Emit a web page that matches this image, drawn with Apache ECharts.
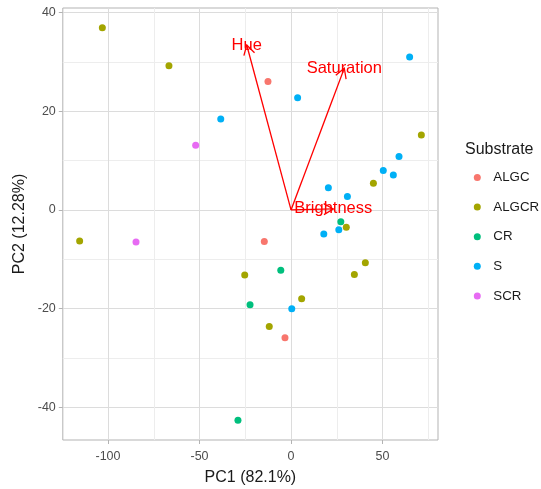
<!DOCTYPE html>
<html>
<head>
<meta charset="utf-8">
<script src="https://cdn.jsdelivr.net/npm/echarts@6/dist/echarts.min.js"></script>
<style>html,body{margin:0;padding:0;background:#fff}#c{width:541px;height:489px}</style>
</head>
<body>
<div id="c"></div>
<script>
// ---- data ----
const groups = ['ALGC', 'ALGCR', 'CR', 'S', 'SCR'];
const colors = ['#F8766D', '#A3A500', '#00BF7D', '#00B0F6', '#E76BF3'];
const pc1_ALGC  = [-12.6, -14.6, -3.3];
const pc2_ALGC  = [26.0, -6.4, -25.9];
const pc1_ALGCR = [-103.1, -66.7, 71.2, 45.0, 30.2, 40.6, 34.6, -25.3, 5.8, -11.9, -115.5];
const pc2_ALGCR = [36.9, 29.2, 15.2, 5.4, -3.5, -10.7, -13.1, -13.2, -18.0, -23.6, -6.3];
const pc1_CR    = [27.2, -5.6, -22.4, -29.0];
const pc2_CR    = [-2.4, -12.2, -19.2, -42.6];
const pc1_S     = [-38.4, 3.6, 64.8, 59.0, 50.4, 55.9, 20.4, 30.8, 26.1, 17.9, 0.4];
const pc2_S     = [18.4, 22.7, 31.0, 10.8, 8.0, 7.1, 4.5, 2.7, -4.0, -4.9, -20.0];
const pc1_SCR   = [-52.1, -84.7];
const pc2_SCR   = [13.1, -6.5];
const loadNames = ['Hue', 'Saturation', 'Brightness'];
const loadPC1 = [-24.2, 29.1, 23.1];
const loadPC2 = [33.4, 28.7, 0.2];
const xTicks = [-100, -50, 0, 50];
const xGrid = [-100, -75, -50, -25, 0, 25, 50, 75];
const yTicks = [-40, -20, 0, 20, 40];
const yGrid = [-40, -30, -20, -10, 0, 10, 20, 30, 40];
const xMin = -124.7, xMax = 80.3, yMin = -46.6, yMax = 40.9;

const pc1 = {ALGC: pc1_ALGC, ALGCR: pc1_ALGCR, CR: pc1_CR, S: pc1_S, SCR: pc1_SCR};
const pc2 = {ALGC: pc2_ALGC, ALGCR: pc2_ALGCR, CR: pc2_CR, S: pc2_S, SCR: pc2_SCR};

const FONT = '"Liberation Sans", Arial, sans-serif';
const chart = echarts.init(document.getElementById('c'), null, {renderer: 'canvas'});

const scatterSeries = groups.map((g, i) => ({
  name: g, type: 'scatter', xAxisIndex: 0, yAxisIndex: 0,
  symbol: 'circle', symbolSize: 7,
  itemStyle: {color: colors[i], opacity: 1},
  emphasis: {disabled: true},
  data: pc1[g].map((x, k) => [x, pc2[g][k]]),
  z: 3
}));

const arrowSeries = {
  type: 'custom', xAxisIndex: 0, yAxisIndex: 0, z: 4, silent: true,
  data: loadPC1.map((x, k) => [x, loadPC2[k]]),
  renderItem: function (params, api) {
    const o = api.coord([0, 0]);
    const t = api.coord([api.value(0), api.value(1)]);
    const ang = Math.atan2(t[1] - o[1], t[0] - o[0]);
    const L = 11, a = Math.PI / 6;
    const p1 = [t[0] - L * Math.cos(ang - a), t[1] - L * Math.sin(ang - a)];
    const p2 = [t[0] - L * Math.cos(ang + a), t[1] - L * Math.sin(ang + a)];
    return {type: 'group', children: [
      {type: 'polyline', shape: {points: [o, t]}, style: {stroke: '#FF0000', lineWidth: 1.3, fill: null}},
      {type: 'polyline', shape: {points: [p1, t, p2]}, style: {stroke: '#FF0000', lineWidth: 1.3, fill: null}},
      {type: 'text', x: t[0], y: t[1], style: {text: loadNames[params.dataIndex], fill: '#FF0000',
        font: '16.5px ' + FONT, align: 'center', verticalAlign: 'middle'}}
    ]};
  }
};

const gridPos = {left: 62.8, right: 103, top: 8, bottom: 49};

chart.setOption({
  animation: false,
  backgroundColor: '#ffffff',
  grid: Object.assign({show: true, borderColor: '#b3b3b3', borderWidth: 1, backgroundColor: '#fff',
    outerBoundsMode: 'none', containLabel: false}, gridPos),
  xAxis: [
    {type: 'value', min: xMin, max: xMax, position: 'bottom',
      axisLine: {show: false, onZero: false}, axisLabel: {show: false},
      axisTick: {show: false, customValues: xGrid},
      splitLine: {show: true, lineStyle: {color: ['#dcdcdc', '#ededed'], width: 1}}},
    {type: 'value', min: xMin, max: xMax, position: 'bottom',
      axisLine: {show: false, onZero: false},
      axisTick: {show: true, customValues: xTicks, length: 4, lineStyle: {color: '#b3b3b3'}},
      axisLabel: {show: true, customValues: xTicks, margin: 10, fontSize: 12.5, color: '#4d4d4d', fontFamily: FONT},
      splitLine: {show: false},
      name: 'PC1 (82.1%)', nameLocation: 'middle', nameGap: 30, nameMoveOverlap: false,
      nameTextStyle: {fontSize: 16, color: '#1a1a1a', fontFamily: FONT}}
  ],
  yAxis: [
    {type: 'value', min: yMin, max: yMax, position: 'left',
      axisLine: {show: false, onZero: false}, axisLabel: {show: false},
      axisTick: {show: false, customValues: yGrid},
      splitLine: {show: true, lineStyle: {color: ['#dcdcdc', '#ededed'], width: 1}}},
    {type: 'value', min: yMin, max: yMax, position: 'left',
      axisLine: {show: false, onZero: false},
      axisTick: {show: true, customValues: yTicks, length: 4, lineStyle: {color: '#b3b3b3'}},
      axisLabel: {show: true, customValues: yTicks, margin: 7, fontSize: 12.5, color: '#4d4d4d', fontFamily: FONT},
      splitLine: {show: false},
      name: 'PC2 (12.28%)', nameLocation: 'middle', nameGap: 35, nameMoveOverlap: false,
      nameTextStyle: {fontSize: 16, color: '#1a1a1a', fontFamily: FONT}}
  ],
  legend: {
    orient: 'vertical', left: 473.8, top: 169.5, padding: 0,
    icon: 'circle', itemWidth: 7, itemHeight: 7, itemGap: 13.6,
    selectedMode: false,
    data: groups,
    textStyle: {fontSize: 13.3, color: '#1a1a1a', fontFamily: FONT, lineHeight: 16, padding: [0, 0, 0, 7.5]}
  },
  graphic: [
    {type: 'text', x: 465, y: 150, style: {text: 'Substrate', font: '16px ' + FONT, fill: '#1a1a1a', verticalAlign: 'middle'}}
  ],
  series: scatterSeries.concat([arrowSeries])
});
</script>
</body>
</html>
